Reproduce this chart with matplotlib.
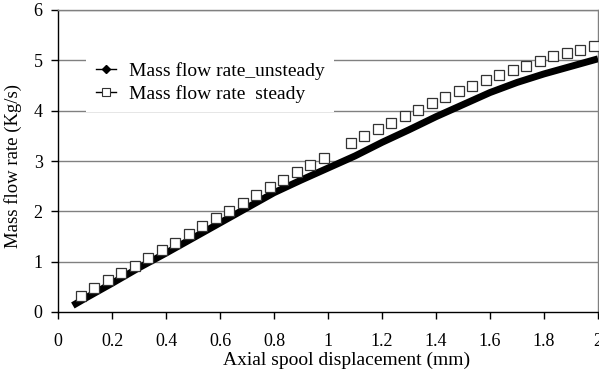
import numpy as np
import matplotlib.pyplot as plt
from matplotlib.lines import Line2D

# unsteady curve
x_unsteady = [0.055, 0.1, 0.2, 0.3, 0.4, 0.5, 0.6, 0.7, 0.8, 0.9, 1.0,
              1.1, 1.2, 1.3, 1.4, 1.5, 1.6, 1.7, 1.8, 1.9, 2.0]
y_unsteady = [0.13, 0.27, 0.57, 0.88, 1.17, 1.47, 1.77, 2.07, 2.37, 2.62, 2.86,
              3.10, 3.37, 3.62, 3.88, 4.12, 4.36, 4.56, 4.73, 4.88, 5.03]

# steady points (open squares)
x_steady = [0.085, 0.135, 0.185, 0.235, 0.285, 0.335, 0.385, 0.435, 0.485, 0.535,
            0.585, 0.635, 0.685, 0.735, 0.785, 0.835, 0.885, 0.935, 0.985,
            1.085, 1.135, 1.185, 1.235, 1.285, 1.335, 1.385, 1.435, 1.485, 1.535,
            1.585, 1.635, 1.685, 1.735, 1.785, 1.835, 1.885, 1.935, 1.985]
y_steady = [0.32, 0.47, 0.63, 0.78, 0.92, 1.08, 1.23, 1.37, 1.54, 1.71,
            1.86, 2.01, 2.17, 2.32, 2.48, 2.62, 2.78, 2.92, 3.06,
            3.35, 3.50, 3.63, 3.76, 3.90, 4.02, 4.15, 4.28, 4.39, 4.50,
            4.61, 4.71, 4.81, 4.89, 4.98, 5.08, 5.14, 5.21, 5.29]

x_ticks = [0, 0.2, 0.4, 0.6, 0.8, 1, 1.2, 1.4, 1.6, 1.8, 2]
x_ticklabels = ['0', '0.2', '0.4', '0.6', '0.8', '1', '1.2', '1.4', '1.6', '1.8', '2']
y_ticks = [0, 1, 2, 3, 4, 5, 6]

plt.rcParams['font.family'] = ['Liberation Serif', 'DejaVu Serif']
grid_col = '#808080'

fig = plt.figure(figsize=(5.99, 3.76), dpi=100)
ax = fig.add_axes([58 / 599, 64 / 376, 540 / 599, 302 / 376])

for yv in y_ticks[1:]:
    ax.axhline(yv, color=grid_col, lw=1.0, zorder=1)

ax.plot(x_unsteady, y_unsteady, color='black', lw=5, solid_capstyle='butt', zorder=3)
ax.plot(x_steady, y_steady, ls='none', marker='s', ms=6.5, mfc='white',
        mec='#333333', mew=0.9, zorder=4)

ax.set_xlim(0, 2)
ax.set_ylim(0, 6)
ax.set_xticks(x_ticks)
ax.set_xticklabels(x_ticklabels)
ax.set_yticks(y_ticks)
ax.tick_params(axis='both', direction='out', length=5, width=1, labelsize=13,
               color='black')
ax.tick_params(axis='x', pad=10)
ax.tick_params(axis='y', pad=6)

for s in ['left', 'bottom']:
    ax.spines[s].set_color('black')
    ax.spines[s].set_linewidth(1)
for s in ['top', 'right']:
    ax.spines[s].set_color(grid_col)
    ax.spines[s].set_linewidth(1)

ax.set_xlabel('Axial spool displacement (mm)', fontsize=14)
ax.set_ylabel('Mass flow rate (Kg/s)', fontsize=13.5)
ax.xaxis.set_label_coords(0.535, -0.133)
ax.yaxis.set_label_coords(-0.067, 0.483)

handles = [Line2D([], [], color='black', lw=1, marker='D', ms=4),
           Line2D([], [], color='black', lw=1, marker='s', ms=6, mfc='white',
                  mec='#333333', mew=0.8)]
leg = ax.legend(handles, ['Mass flow rate_unsteady', 'Mass flow rate  steady'],
                loc='upper left', bbox_to_anchor=(0.052, 0.86), fontsize=14,
                frameon=True, fancybox=False, framealpha=1, edgecolor='none',
                facecolor='white', borderpad=0.5, borderaxespad=0,
                handlelength=1.05, handletextpad=0.65, labelspacing=0.25)
leg.set_zorder(5)

fig.savefig('out.png', dpi=100)
